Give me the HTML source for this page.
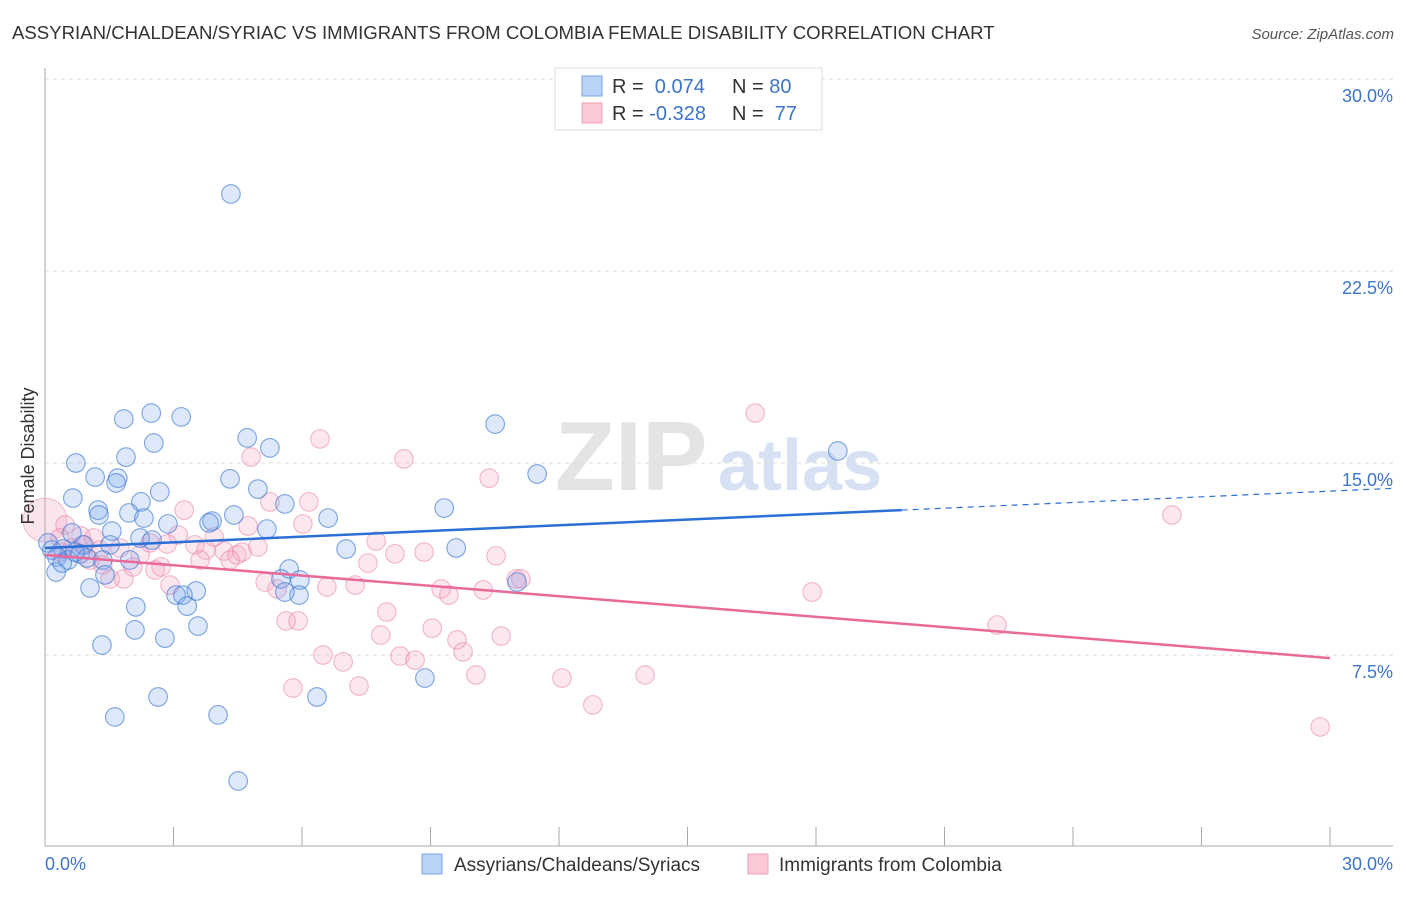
<!DOCTYPE html>
<html><head><meta charset="utf-8"><style>
body{margin:0;background:#fff;font-family:"Liberation Sans",sans-serif}
svg text{font-family:"Liberation Sans",sans-serif}
</style></head><body>
<svg id="chart" width="1406" height="892" xmlns="http://www.w3.org/2000/svg">
<text x="12" y="39" font-size="18.6" fill="#333">ASSYRIAN/CHALDEAN/SYRIAC VS IMMIGRANTS FROM COLOMBIA FEMALE DISABILITY CORRELATION CHART</text>
<text x="1394" y="39" font-size="15" fill="#555" text-anchor="end" font-style="italic">Source: ZipAtlas.com</text>
<text x="555" y="490" font-size="98" fill="#e4e4e4" font-family="Liberation Serif" font-weight="bold">ZIP</text>
<text x="718" y="490" font-size="72" fill="#d6e2f3" font-weight="bold">atlas</text>
<g id="grid"></g>
<g id="axes"></g>
<g id="pts"></g>
<g id="lines"></g>
<text transform="translate(34,456) rotate(-90)" font-size="18" fill="#333" text-anchor="middle">Female Disability</text>
<text x="45" y="870" font-size="18" fill="#3d74c9">0.0%</text>
<text x="1393" y="870" font-size="18" fill="#3d74c9" text-anchor="end">30.0%</text>
<g>
<rect x="555" y="68" width="267" height="62" fill="#fff" stroke="#ddd"/>
<rect x="582" y="76" width="20" height="20" fill="#b8d3f5" stroke="#7aa6e4"/>
<rect x="582" y="103" width="20" height="20" fill="#fbc8d6" stroke="#eea0b8"/>
<text x="612" y="93" font-size="20" fill="#333">R = <tspan fill="#3d74c9">&#160;0.074</tspan></text>
<text x="732" y="93" font-size="20" fill="#333">N = <tspan fill="#3d74c9">80</tspan></text>
<text x="612" y="120" font-size="20" fill="#333">R = <tspan fill="#3d74c9">-0.328</tspan></text>
<text x="732" y="120" font-size="20" fill="#333">N = <tspan fill="#3d74c9">&#160;77</tspan></text>
</g>
<g>
<rect x="422" y="854" width="20" height="20" fill="#b8d3f5" stroke="#7aa6e4"/>
<text x="454" y="871" font-size="19" fill="#333">Assyrians/Chaldeans/Syriacs</text>
<rect x="748" y="854" width="20" height="20" fill="#fbc8d6" stroke="#eea0b8"/>
<text x="779" y="871" font-size="19" fill="#333">Immigrants from Colombia</text>
</g>
</svg>
<script>
const yTicks=[7.5,15,22.5,30];
const yTickLabels=["7.5%","15.0%","22.5%","30.0%"];
const xTicks=[0,3,6,9,12,15,18,21,24,27,30];
const blueX=[4.34,2.48,3.18,1.84,10.51,4.72,2.54,5.25,18.51,0.72,1.89,11.49,1.17,1.70,4.32,1.66,4.97,2.68,0.65,2.24,1.24,9.32,5.60,4.41,1.96,3.90,1.26,2.87,2.31,6.61,5.18,3.83,1.56,0.63,2.22,2.50,9.60,7.03,0.89,1.52,0.07,0.42,0.28,0.54,0.82,0.98,1.35,0.26,5.70,5.51,5.95,11.02,1.05,3.53,3.06,3.22,5.93,5.60,3.32,2.12,2.10,3.57,2.80,1.33,8.87,2.64,6.35,4.04,1.63,4.51,0.40,0.16,0.70,1.98,1.40];
const blueY=[25.51,16.95,16.80,16.72,16.52,15.98,15.78,15.59,15.47,15.0,15.23,14.57,14.45,14.41,14.38,14.22,13.98,13.87,13.63,13.48,13.16,13.24,13.40,12.97,13.05,12.73,12.97,12.62,12.85,12.85,12.42,12.66,12.34,12.27,12.07,11.99,11.68,11.64,11.80,11.80,11.88,11.64,11.33,11.21,11.45,11.29,11.21,10.74,10.86,10.47,10.43,10.35,10.12,10.0,9.84,9.84,9.84,9.96,9.41,9.38,8.48,8.63,8.16,7.89,6.60,5.86,5.86,5.16,5.08,2.58,11.09,11.60,11.52,11.21,10.63];
const pinkX=[16.58,6.42,4.81,8.38,10.37,26.31,5.25,3.25,6.16,4.74,6.02,3.11,3.95,0.35,0.84,1.14,1.75,2.45,2.85,3.50,3.76,4.18,4.48,4.60,4.97,7.73,8.17,8.85,10.53,1.35,2.05,2.71,2.57,1.52,1.84,2.92,5.14,5.42,6.58,7.24,7.54,9.25,9.43,10.23,11.0,11.11,17.91,7.98,5.63,5.91,9.04,7.84,10.65,9.62,9.76,6.49,6.96,8.29,8.64,5.79,7.33,10.06,12.07,14.01,12.79,22.23,29.77,0.35,0.63,0.93,1.28,2.22,3.62,4.32,0.47,1.05];
const pinkY=[16.95,15.94,15.23,15.16,14.41,12.97,13.48,13.16,13.48,12.54,12.62,12.19,12.11,12.07,12.15,12.07,11.68,11.88,11.84,11.80,11.60,11.56,11.41,11.52,11.72,11.95,11.45,11.52,11.37,11.02,10.94,10.94,10.82,10.47,10.47,10.23,10.35,10.08,10.16,10.23,11.09,10.08,9.84,10.04,10.47,10.47,9.96,9.18,8.83,8.83,8.55,8.28,8.24,8.09,7.62,7.5,7.23,7.46,7.30,6.21,6.29,6.72,6.60,6.72,5.55,8.67,4.69,11.52,11.68,11.80,11.60,11.41,11.21,11.21,12.58,11.21];
const blueTrend=[11.68,14.01];
const pinkTrend=[11.41,7.38];
const X0=45,X1=1330,Y0=847,PXY=25.6;
const sx=v=>X0+(v/30)*(X1-X0);
const sy=v=>Y0-v*PXY;
const NS="http://www.w3.org/2000/svg";
function mk(tag,attrs,parent){const e=document.createElementNS(NS,tag);for(const k in attrs)e.setAttribute(k,attrs[k]);parent.appendChild(e);return e;}
const grid=document.getElementById('grid'),axes=document.getElementById('axes'),pts=document.getElementById('pts'),lines=document.getElementById('lines');
yTicks.forEach((t,i)=>{
 const l=mk('line',{x1:45,x2:1393,y1:sy(t),y2:sy(t),stroke:'#ddd','stroke-dasharray':'4,4'},grid);
 
 
 const tx=mk('text',{x:1393,y:sy(t)+23,'font-size':18,fill:'#3d74c9','text-anchor':'end'},grid);
 tx.textContent=yTickLabels[i];
 
 
});
const ya=mk('line',{x1:45,x2:45,y1:68,y2:846,stroke:'#aaa'},axes);


const xa=mk('line',{x1:45,x2:1393,y1:846,y2:846,stroke:'#aaa'},axes);


xTicks.forEach(t=>{
 const l=mk('line',{x1:sx(t),x2:sx(t),y1:827,y2:846,stroke:'#aaa'},axes);
 
 
});
const big=mk('circle',{cx:sx(0),cy:sy(12.77),r:22,fill:'rgba(240,150,180,0.25)',stroke:'rgba(232,130,165,0.45)'},pts);


pinkX.forEach((x,i)=>{
 const c=mk('circle',{cx:sx(x),cy:sy(pinkY[i]),r:9.3,fill:'rgba(245,160,190,0.25)',stroke:'rgba(232,130,165,0.55)','stroke-width':1.1},pts);
 
 
});
blueX.forEach((x,i)=>{
 const c=mk('circle',{cx:sx(x),cy:sy(blueY[i]),r:9.3,fill:'rgba(120,165,235,0.25)',stroke:'rgba(60,120,210,0.65)','stroke-width':1.1},pts);
 
 
});
const bAt=x=>blueTrend[0]+(blueTrend[1]-blueTrend[0])*x/31.47;
const b1=mk('line',{x1:sx(0),y1:sy(bAt(0)),x2:sx(20),y2:sy(bAt(20)),stroke:'#2a6fd6','stroke-width':2.5},lines);


const b2=mk('line',{x1:sx(20),y1:sy(bAt(20)),x2:sx(31.47),y2:sy(bAt(31.47)),stroke:'#2a6fd6','stroke-width':1.2,'stroke-dasharray':'6,5'},lines);


const p1=mk('line',{x1:sx(0),y1:sy(pinkTrend[0]),x2:sx(30),y2:sy(pinkTrend[1]),stroke:'#e8699a','stroke-width':2.5},lines);


</script>
</body></html>
